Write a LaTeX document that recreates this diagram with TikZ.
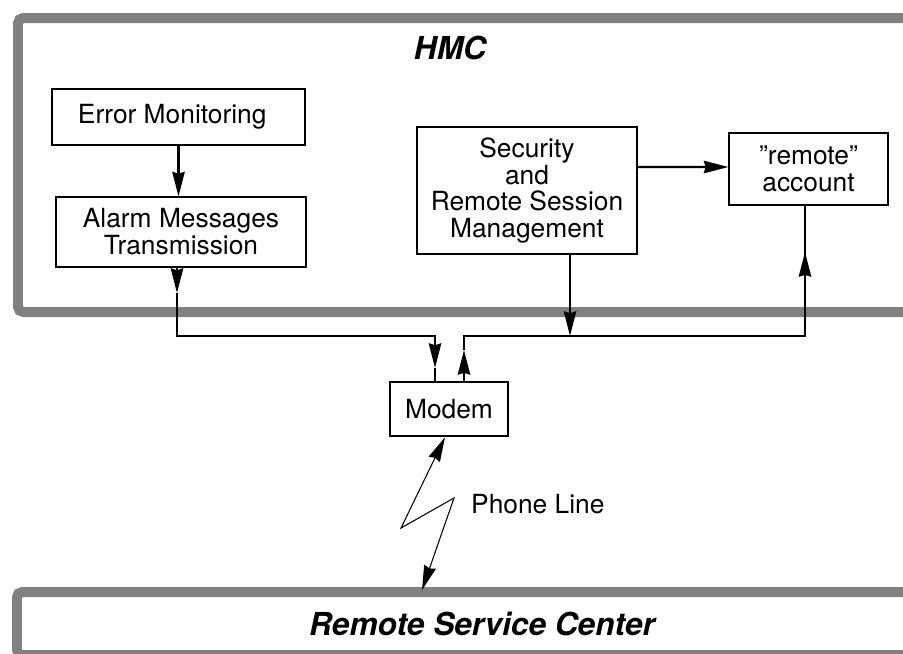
\documentclass[tikz,border=0pt]{standalone}
\usepackage{fontspec}
\setmainfont{TeX Gyre Heros}
\usepackage{xcolor}
\usetikzlibrary{arrows.meta,positioning}
\definecolor{framegray}{RGB}{128,128,128}

\begin{document}
\begin{tikzpicture}[x=0.02cm,y=-0.02cm,>={Stealth[length=14pt,width=7pt,inset=1pt]},
  box/.style={draw,line width=0.6pt,align=center,inner sep=0pt,font=\fontsize{15}{15.3}\selectfont},
  frame/.style={draw=framegray,line width=0.2cm,rounded corners=3pt},
  wire/.style={line width=1.4pt},
  title/.style={font=\fontsize{18}{20}\selectfont\bfseries\itshape}]
\useasboundingbox (0,0) rectangle (903,653);
\clip (0,0) rectangle (903,653);
% frames
\draw[frame] (18,18) rectangle (960,312);
\draw[frame] (17,592) rectangle (960,655);
\node[title] (hmc) at (450,48) {HMC};
\node[title] (rsc) at (482,624) {Remote Service Center};
% boxes
\node[box,minimum width=5.06cm,minimum height=1.12cm] (err) at (178.5,117) {Error Monitoring\hspace{0.25cm}};
\node[box,minimum width=5cm,minimum height=1.4cm] (alarm) at (181,232) {Alarm Messages\\Transmission};
\node[box,minimum width=4.4cm,minimum height=2.54cm] (sec) at (527,190.5) {Security\\and\\Remote Session\\Management};
\node[box,minimum width=3.18cm,minimum height=1.44cm] (acct) at (808.5,169) {''remote''\\account};
\node[box,line width=1.4pt,minimum width=2.36cm,minimum height=1.08cm] (modem) at (449,409) {Modem};
\node[anchor=west,font=\fontsize{15}{15}\selectfont] (phone) at (465,504) {Phone Line};
% bus points
\coordinate (a1) at (177,293);
\coordinate (a2) at (177,336);
\coordinate (a3) at (435,336);
\coordinate (a4) at (435,368);
\coordinate (m1) at (464,350);
\coordinate (m2) at (464,336);
\coordinate (s1) at (570,336);
\coordinate (r1) at (805,336);
\coordinate (r2) at (805,252);
\coordinate (z1) at (401,528);
\coordinate (z2) at (454,498);
\coordinate (rsctop) at (422,590);
% connectors
\draw[wire,->] (err.south) -- (err.south |- alarm.north);
\draw[wire,->] (sec.east |- acct.west) ++(0,-2) -- ([yshift=0.04cm]acct.west);
\draw[wire,->] (sec.south -| s1) -- (s1);
\draw[wire,->] (alarm.south -| a1) -- (a1);
\draw[wire,->] (a1) -- (a2) -- (a3) -- (a4);
\draw[wire] (a4) -- (modem.north -| a4);
\draw[wire,->] (modem.north -| m1) -- (m1);
\draw[wire] (m1) -- (m2) -- (r1) -- (r2);
\draw[wire,->] (r1) -- (r2);
\draw[wire] (r2) -- (acct.south -| r2);
\draw[line width=0.6pt,<->] ([xshift=-0.08cm]modem.south) -- (z1) -- (z2) -- (rsctop);
\end{tikzpicture}
\end{document}
